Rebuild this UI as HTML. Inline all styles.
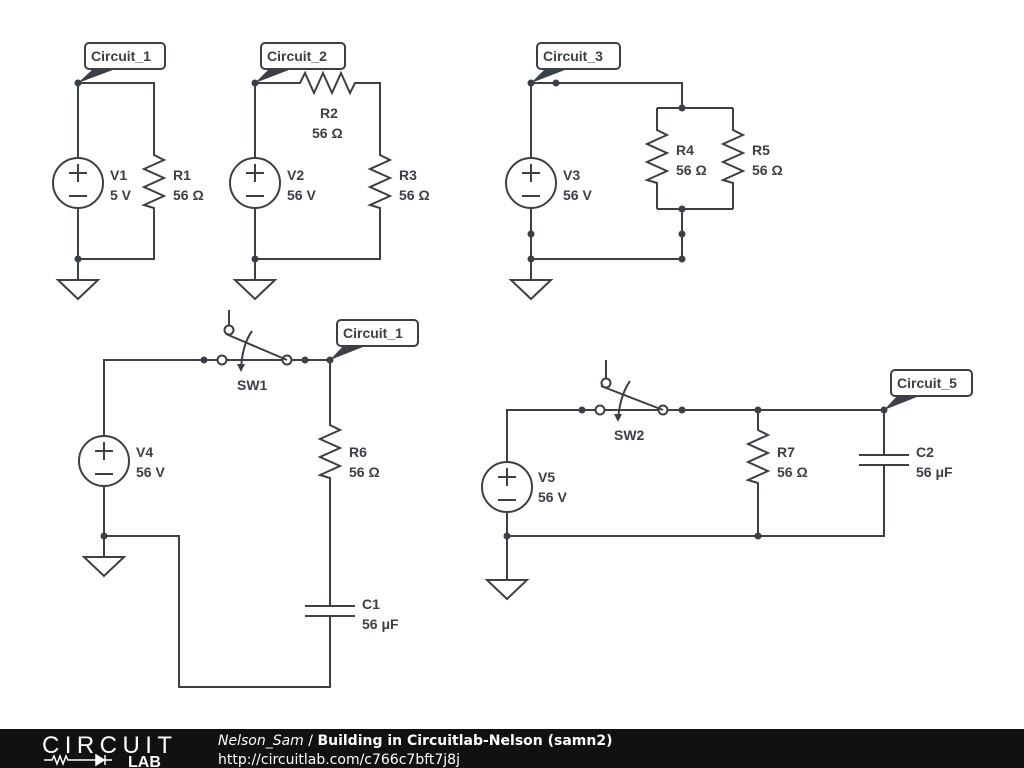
<!DOCTYPE html>
<html><head><meta charset="utf-8"><style>
html,body{margin:0;padding:0;width:1024px;height:768px;overflow:hidden;background:#fff}
svg{display:block}
text{font-family:"Liberation Sans",sans-serif;font-weight:bold;fill:#3b4046}
</style></head><body>
<svg width="1024" height="768" viewBox="0 0 1024 768" xmlns="http://www.w3.org/2000/svg">
<g stroke="#3b4046" stroke-width="2" fill="none" stroke-linejoin="miter">
<path d="M78 83V158M78 208V280M78 83H154V155l10 5-20 9 20 9-20 9 20 9-20 9 10 3V259H78"/>
<circle cx="78" cy="183" r="25"/>
<path d="M255 83V158M255 208V280M255 83H300l5 -10 9 20 9-20 9 20 9-20 9 20 5-10H380V155l10 5-20 9 20 9-20 9 20 9-20 9 10 3V259H255"/>
<circle cx="255" cy="183" r="25"/>
<path d="M531 83V158M531 208V280M531 83H682V108M657 108H733M657 108V130l10 5-20 9 20 9-20 9 20 9-20 9 10 3V209M733 108V130l10 5-20 9 20 9-20 9 20 9-20 9 10 3V209M657 209H733M682 209V259H531"/>
<circle cx="531" cy="183" r="25"/>
<path d="M104 436V360H218M226 360H283M291 360H330V425l10 5-20 9 20 9-20 9 20 9-20 9 10 3V606M330 616V687H179V536H104V486M104 536V557"/>
<path d="M305 606H355M305 616H355"/>
<circle cx="104" cy="461" r="25"/>
<path d="M229 310V325M226 334L287 360"/>
<circle cx="229" cy="330" r="4.5"/><circle cx="222" cy="360" r="4.5"/><circle cx="287" cy="360" r="4.5"/>
<path d="M252 331Q242 345 241 370"/>
<path d="M507 462V410H596M604 410H659M667 410H884V455M884 465V536H507V512M507 536V580M758 410V430l10 5-20 9 20 9-20 9 20 9-20 9 10 3V536"/>
<path d="M859 455H909M859 465H909"/>
<circle cx="507" cy="487" r="25"/>
<path d="M606 360V378M601 386L663 410"/>
<circle cx="606" cy="383" r="4.5"/><circle cx="600" cy="410" r="4.5"/><circle cx="663" cy="410" r="4.5"/>
<path d="M630 381Q620 395 618 420"/>
<path d="M58 280H98L78 299Z M235 280H275L255 299Z M511 280H551L531 299Z M84 557H124L104 576Z M487 580H527L507 599Z"/>
<path d="M69 173H87M78 164V182M69 196H87 M246 173H264M255 164V182M246 196H264 M522 173H540M531 164V182M522 196H540 M95 451H113M104 442V460M95 474H113 M498 477H516M507 468V486M498 500H516"/>
</g>
<g fill="#3b4046">
<path d="M237 364L241 372L245 364Z"/><path d="M614 414L618 422L622 414Z"/>
</g>
<g fill="#3b4046">
<circle cx="78" cy="83" r="3.5"/><circle cx="78" cy="259" r="3.5"/>
<circle cx="255" cy="83" r="3.5"/><circle cx="255" cy="259" r="3.5"/>
<circle cx="531" cy="83" r="3.5"/><circle cx="556" cy="83" r="3.5"/><circle cx="682" cy="108" r="3.5"/><circle cx="682" cy="209" r="3.5"/>
<circle cx="531" cy="234" r="3.5"/><circle cx="682" cy="234" r="3.5"/><circle cx="531" cy="259" r="3.5"/><circle cx="682" cy="259" r="3.5"/>
<circle cx="204" cy="360" r="3.5"/><circle cx="305" cy="360" r="3.5"/><circle cx="330" cy="360" r="3.5"/><circle cx="104" cy="536" r="3.5"/>
<circle cx="582" cy="410" r="3.5"/><circle cx="682" cy="410" r="3.5"/><circle cx="758" cy="410" r="3.5"/><circle cx="884" cy="410" r="3.5"/>
<circle cx="758" cy="536" r="3.5"/><circle cx="507" cy="536" r="3.5"/>
<path d="M78 83L94 68H118Z"/><path d="M255 83L270 68H294Z"/><path d="M531 83L546 68H570Z"/>
<path d="M330 360L344 345H368Z"/><path d="M884 410L898 395H922Z"/>
</g>
<g stroke="#3b4046" stroke-width="2" fill="#fff">
<rect x="85" y="43" width="80" height="26" rx="4"/>
<rect x="261" y="43" width="84" height="26" rx="4"/>
<rect x="537" y="43" width="83" height="26" rx="4"/>
<rect x="337" y="320" width="81" height="26" rx="4"/>
<rect x="891" y="370" width="81" height="26" rx="4"/>
</g>
<g font-size="14">
<text x="91" y="61">Circuit_1</text>
<text x="267" y="61">Circuit_2</text>
<text x="543" y="61">Circuit_3</text>
<text x="343" y="338">Circuit_1</text>
<text x="897" y="388">Circuit_5</text>
<text x="110" y="180">V1</text><text x="110" y="200">5 V</text>
<text x="173" y="180">R1</text><text x="173" y="200">56 Ω</text>
<text x="287" y="180">V2</text><text x="287" y="200">56 V</text>
<text x="320" y="118">R2</text><text x="312" y="138">56 Ω</text>
<text x="399" y="180">R3</text><text x="399" y="200">56 Ω</text>
<text x="563" y="180">V3</text><text x="563" y="200">56 V</text>
<text x="676" y="155">R4</text><text x="676" y="175">56 Ω</text>
<text x="752" y="155">R5</text><text x="752" y="175">56 Ω</text>
<text x="136" y="457">V4</text><text x="136" y="477">56 V</text>
<text x="237" y="390">SW1</text>
<text x="349" y="457">R6</text><text x="349" y="477">56 Ω</text>
<text x="362" y="609">C1</text><text x="362" y="629">56 μF</text>
<text x="538" y="482">V5</text><text x="538" y="502">56 V</text>
<text x="614" y="440">SW2</text>
<text x="777" y="457">R7</text><text x="777" y="477">56 Ω</text>
<text x="916" y="457">C2</text><text x="916" y="477">56 μF</text>
</g>
<rect x="0" y="729" width="1024" height="39" fill="#111"/>
<text x="42" y="753" font-size="24" style="font-weight:normal;fill:#fff" textLength="130">CIRCUIT</text>
<path d="M44 760H52l2-4 3 8 3-8 3 8 3-8 2 4H80M80 760H112" stroke="#fff" stroke-width="1.5" fill="none"/>
<path d="M96 755V765L104 760Z M105 755V765" fill="#fff" stroke="#fff" stroke-width="1.5"/>
<text x="128" y="767" font-size="16" style="fill:#fff">LAB</text>
<text x="218" y="745" font-size="14" style="fill:#fff;font-family:'DejaVu Sans',sans-serif;font-weight:normal"><tspan font-style="italic">Nelson_Sam</tspan> / <tspan font-weight="bold">Building in Circuitlab-Nelson (samn2)</tspan></text>
<text x="218" y="764" font-size="14" style="fill:#fff;font-family:'DejaVu Sans',sans-serif;font-weight:normal">http://circuitlab.com/c766c7bft7j8j</text>
</svg>
</body></html>
